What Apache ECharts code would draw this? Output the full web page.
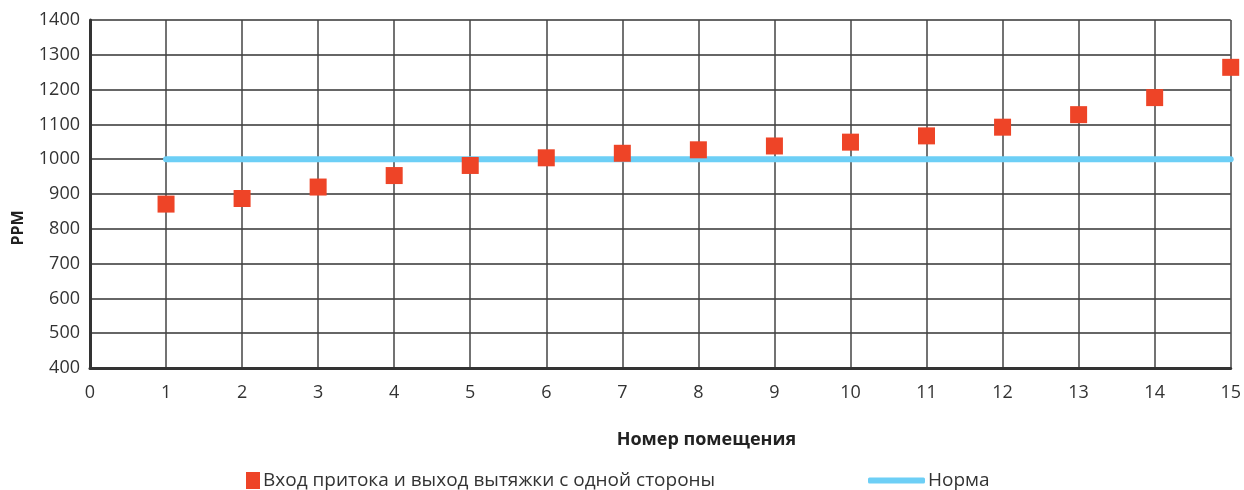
<!DOCTYPE html>
<html><head><meta charset="utf-8">
<script src="https://cdn.jsdelivr.net/npm/echarts@6/dist/echarts.min.js"></script>
<style>html,body{margin:0;padding:0;background:#fff}#c{width:1244px;height:490px}</style>
</head><body><div id="c"></div>
<script>
const rooms = [1,2,3,4,5,6,7,8,9,10,11,12,13,14,15];
const ppmValues = [871,887,920,953,982,1004,1017,1027,1038,1049,1067,1092,1128,1177,1264];
const normX = [1,15];
const normValue = 1000;
const seriesNames = ['Вход притока и выход вытяжки с одной стороны','Норма'];
const xAxisTitle = 'Номер помещения';
const yAxisTitle = 'PPM';

const font = 'Open Sans';
const chart = echarts.init(document.getElementById('c'));
chart.setOption({
  animation:false,
  textStyle:{fontFamily:font},
  grid:{left:90,right:12,top:20,bottom:122,containLabel:false},
  xAxis:{type:'value',min:0,max:15,interval:1,
    name:xAxisTitle,nameLocation:'middle',nameGap:63,
    nameTextStyle:{fontFamily:font,fontSize:18,fontWeight:'bold',color:'#222',padding:[0,0,0,92]},
    axisLine:{show:true,lineStyle:{color:'#333',width:3}},
    axisTick:{show:false},
    axisLabel:{fontFamily:font,fontSize:18,color:'#333',margin:16},
    splitLine:{show:true,lineStyle:{color:'#444',width:1.5}}},
  yAxis:{type:'value',min:400,max:1400,interval:100,
    name:yAxisTitle,nameLocation:'middle',nameGap:64,nameRotate:90,
    nameTextStyle:{fontFamily:font,fontSize:16,fontWeight:'bold',color:'#222',padding:[0,68,0,0]},
    axisLine:{show:true,lineStyle:{color:'#333',width:3}},
    axisTick:{show:false},
    axisLabel:{fontFamily:font,fontSize:18,color:'#333',margin:10,formatter:v=>String(v)},
    splitLine:{show:true,lineStyle:{color:'#333',width:1.5}}},
  legend:[
    {data:[{name:seriesNames[0],icon:'rect'}],left:241,top:466,itemWidth:14,itemHeight:17,itemGap:6,itemStyle:{opacity:1},
     textStyle:{fontFamily:font,fontSize:19,color:'#333',padding:[0,0,0,-2]}},
    {data:[{name:seriesNames[1],icon:'roundRect'}],left:863,top:466,itemWidth:57,itemHeight:6,itemGap:6,
     textStyle:{fontFamily:font,fontSize:19,color:'#333',padding:[0,0,0,-2]}}
  ],
  series:[
    {name:seriesNames[1],type:'line',data:normX.map(x=>[x,normValue]),symbol:'none',
     lineStyle:{color:'#6dcff6',width:6,cap:'round'},itemStyle:{color:'#6dcff6'},z:2},
    {name:seriesNames[0],type:'scatter',data:rooms.map((r,i)=>[r,ppmValues[i]]),
     symbol:'rect',symbolSize:[17,17],itemStyle:{color:'#ee4427',opacity:1},z:3}
  ]
});
</script></body></html>
